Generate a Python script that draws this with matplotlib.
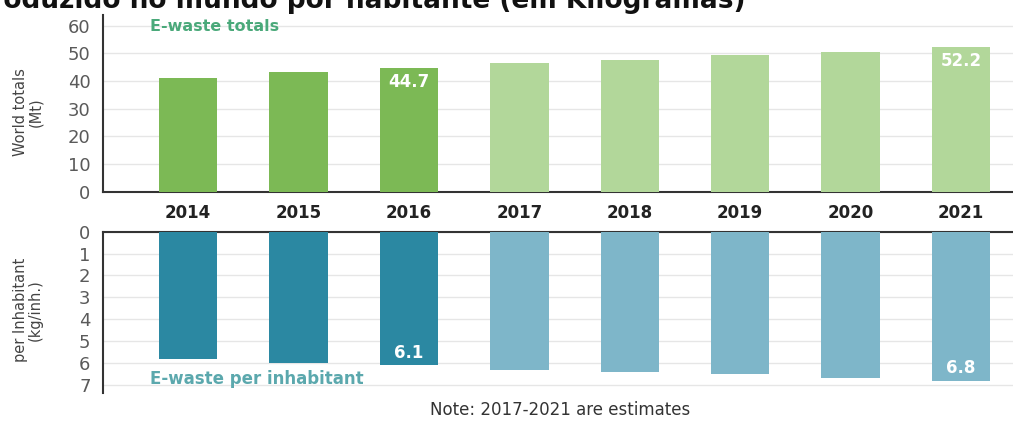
import matplotlib
matplotlib.use("Agg")
import matplotlib.pyplot as plt

years = ["2014", "2015", "2016", "2017", "2018", "2019", "2020", "2021"]
totals_mt = [41.2, 43.1, 44.7, 46.4, 47.7, 49.4, 50.6, 52.2]
per_inhabitant_kg = [5.8, 6.0, 6.1, 6.3, 6.4, 6.5, 6.7, 6.8]
estimate = [False, False, False, True, True, True, True, True]
labelled = {"2016": True, "2021": True}

title = "Lixo eletrônico produzido no mundo por habitante (em Kilogramas)"

c_top_actual, c_top_est = "#7cb955", "#b2d79a"
c_bot_actual, c_bot_est = "#2b88a2", "#7eb6c9"

fig = plt.figure(figsize=(10.13, 4.21), dpi=100)
W, H = 1013, 421

ax1 = fig.add_axes([103 / W, (H - 191.7) / H, 1 - 103 / W, (191.7 - 15) / H])
ax2 = fig.add_axes([103 / W, (H - 393) / H, 1 - 103 / W, (393 - 231.7) / H])

x = list(range(len(years)))
bw = 0.53
cols1 = [c_top_est if e else c_top_actual for e in estimate]
cols2 = [c_bot_est if e else c_bot_actual for e in estimate]

ax1.bar(x, totals_mt, width=bw, color=cols1, zorder=3)
ax2.bar(x, per_inhabitant_kg, width=bw, color=cols2, zorder=3)

for ax in (ax1, ax2):
    ax.set_xlim(-0.77, 7.47)
    ax.grid(axis="y", color="#e6e6e6", linewidth=1, zorder=0)
    ax.set_axisbelow(True)
    ax.tick_params(axis="y", length=0, labelsize=13, labelcolor="#5a5a5a", pad=9)
    ax.tick_params(axis="x", length=0)
    ax.spines["right"].set_visible(False)
    ax.spines["left"].set_color("#333333")
    ax.spines["left"].set_linewidth(1.5)

ax1.set_ylim(0, 63.8)
ax1.set_yticks([0, 10, 20, 30, 40, 50, 60])
ax1.spines["top"].set_visible(False)
ax1.spines["bottom"].set_color("#333333")
ax1.spines["bottom"].set_linewidth(1.5)
ax1.set_xticks(x)
ax1.set_xticklabels(years, fontsize=12, fontweight="bold", color="#222222")
ax1.tick_params(axis="x", pad=9)

ax2.set_ylim(7.37, 0)
ax2.set_yticks(range(0, 8))
ax2.spines["bottom"].set_visible(False)
ax2.spines["top"].set_color("#333333")
ax2.spines["top"].set_linewidth(1.5)
ax2.set_xticks([])

for i, (y, v) in enumerate(zip(years, totals_mt)):
    if y in labelled:
        ax1.text(i, v - 1.8, f"{v:.1f}", ha="center", va="top", color="white",
                 fontsize=12, fontweight="bold", zorder=4)
for i, (y, v) in enumerate(zip(years, per_inhabitant_kg)):
    if y in labelled:
        ax2.text(i, v - 0.15, f"{v:.1f}", ha="center", va="bottom", color="white",
                 fontsize=12, fontweight="bold", zorder=4)

ax1.text(0.052, 0.975, "E-waste totals", transform=ax1.transAxes, ha="left", va="top",
         color="#4aa97a", fontsize=11.5, fontweight="bold")
ax2.text(0.052, 0.03, "E-waste per inhabitant", transform=ax2.transAxes, ha="left", va="bottom",
         color="#5ba8ad", fontsize=12, fontweight="bold")

fig.text(28 / W, (H - 112) / H, "World totals\n(Mt)", rotation=90, ha="center", va="center",
         fontsize=10.5, color="#444444", family="Liberation Sans Narrow", linespacing=1.0)
fig.text(28 / W, (H - 310) / H, "per Inhabitant\n(kg/inh.)", rotation=90, ha="center", va="center",
         fontsize=10.5, color="#444444", family="Liberation Sans Narrow", linespacing=1.0)

fig.text(560 / W, (H - 410) / H, "Note: 2017-2021 are estimates", ha="center", va="center",
         fontsize=12, color="#333333")

fig.text(745 / W, (H - 8) / H, title, ha="right", va="baseline", fontsize=19,
         fontweight="bold", color="#111111")

fig.savefig("out.png", dpi=100, facecolor="white")
